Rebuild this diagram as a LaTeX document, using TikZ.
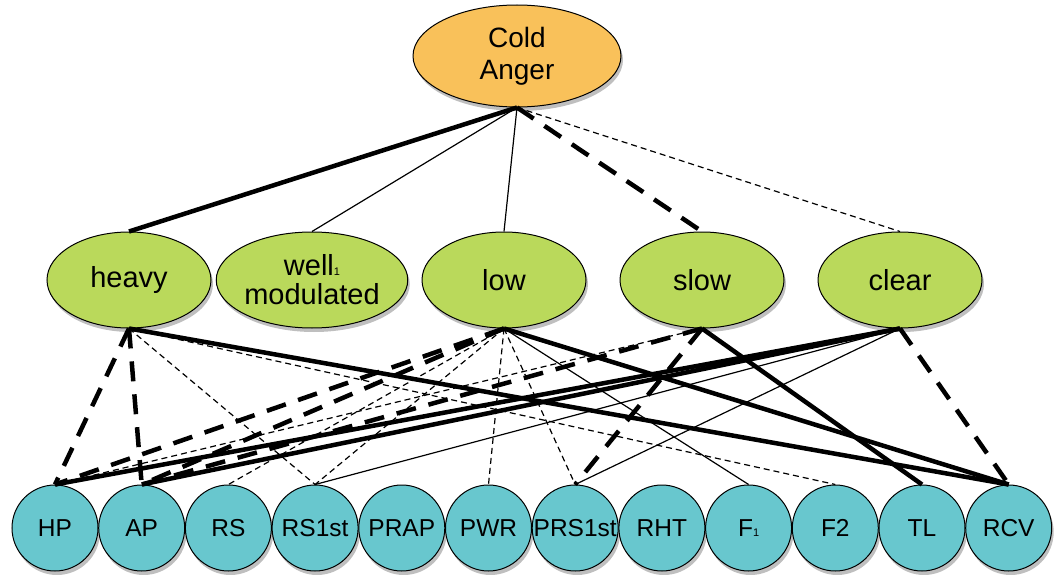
\documentclass[tikz,border=0pt]{standalone}
\usepackage{fontspec}
\setmainfont{Liberation Sans}
\usetikzlibrary{shapes.geometric,shadows}
\definecolor{rootfill}{RGB}{249,193,90}
\definecolor{midfill}{RGB}{186,217,91}
\definecolor{cuefill}{RGB}{104,199,206}
\newcommand{\smallone}{{\fontsize{11}{11}\selectfont 1}}
\tikzset{
  base/.style={draw=black, line width=1pt, inner sep=0pt, align=center,
    drop shadow={shadow xshift=2pt, shadow yshift=-4pt, opacity=0.25, fill=black}},
  root/.style={base, ellipse, fill=rootfill, minimum width=208pt, minimum height=102pt,
    font=\fontsize{28}{32}\selectfont},
  mid/.style={base, ellipse, fill=midfill, minimum width=164pt, minimum height=96pt,
    font=\fontsize{29}{29}\selectfont},
  cue/.style={base, circle, fill=cuefill, minimum size=86pt,
    font=\fontsize{24.5}{28}\selectfont},
  thickline/.style={line width=4.5pt},
  thinline/.style={line width=1.2pt},
  thickdash/.style={line width=4.5pt, dash pattern=on 20pt off 13pt},
  thindash/.style={line width=1.2pt, dash pattern=on 6pt off 4pt},
}
\begin{document}
\begin{tikzpicture}[x=1pt, y=-1pt]
\useasboundingbox (0,0) rectangle (1060,575);

% emotion
\node[root] (ca) at (517,56) {Cold\\Anger};

% percepts
\node[mid] (heavy) at (129,280) {heavy};
\node[mid] (well)  at (312,280) {well\smallone\\modulated};
\node[mid] (low)   at (504,280) {low};
\node[mid] (slow)  at (702,280) {slow};
\node[mid] (clear) at (900,280) {clear};

% acoustic cues
\foreach \name/\lab [count=\i from 0] in
  {HP/HP, AP/AP, RS/RS, RSf/RS1st, PRAP/PRAP, PWR/PWR, PRSf/PRS1st,
   RHT/RHT, F1/F\smallone, F2/F2, TL/TL, RCV/RCV}
  \node[cue] (\name) at ({55+86.7*\i},528) {\lab};

% emotion -> percepts
\draw[thickline] (ca.south) -- (heavy.north);
\draw[thinline]  (ca.south) -- (well.north);
\draw[thinline]  (ca.south) -- (low.north);
\draw[thickdash] (ca.south) -- (slow.north);
\draw[thindash]  (ca.south) -- (clear.north);

% heavy -> cues
\draw[thickdash] (heavy.south) -- (HP.north);
\draw[thickdash] (heavy.south) -- (AP.north);
\draw[thindash]  (heavy.south) -- (RSf.north);
\draw[thindash]  (heavy.south) -- (F2.north);
\draw[thickline] (heavy.south) -- (RCV.north);

% low -> cues
\draw[thickdash] (low.south) -- (HP.north);
\draw[thickdash] (low.south) -- (AP.north);
\draw[thindash]  (low.south) -- (RS.north);
\draw[thindash]  (low.south) -- (RSf.north);
\draw[thindash]  (low.south) -- (PWR.north);
\draw[thindash]  (low.south) -- (PRSf.north);
\draw[thinline]  (low.south) -- (F1.north);
\draw[thickline] (low.south) -- (RCV.north);

% slow -> cues
\draw[thickdash] (slow.south) -- (AP.north);
\draw[thindash]  (slow.south) -- (HP.north);
\draw[thickdash] (slow.south) -- (PRSf.north);
\draw[thickline] (slow.south) -- (TL.north);

% clear -> cues
\draw[thickline] (clear.south) -- (HP.north);
\draw[thickline] (clear.south) -- (AP.north);
\draw[thinline]  (clear.south) -- (RSf.north);
\draw[thinline]  (clear.south) -- (PRSf.north);
\draw[thickdash] (clear.south) -- (RCV.north);
\end{tikzpicture}
\end{document}
